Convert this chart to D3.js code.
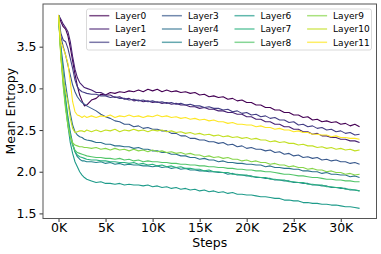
<!DOCTYPE html>
<html lang="en">
  <head>
    <meta charset="utf-8" />
    <title>Mean Entropy</title>
    <script src="https://d3js.org/d3.v7.min.js" charset="utf-8"></script>
    <style>
      body { margin: 0; background: #fff; }
      text { font-family: "DejaVu Sans", sans-serif; fill: #000; }
    </style>
  </head>
  <body>
    <div id="chart"></div>
    <script type="text/javascript">
      // steps in K
      const steps = [0, 0.25, 0.5, 0.75, 1, 1.25, 1.5, 1.75, 2, 2.25, 2.5, 2.75, 3,
        3.5, 4, 4.5, 5, 5.5, 6, 6.5, 7, 7.5, 8, 8.5, 9, 9.5, 10, 10.5, 11, 11.5, 12, 12.5,
        13, 13.5, 14, 14.5, 15, 15.5, 16, 16.5, 17, 17.5, 18, 18.5, 19, 19.5, 20, 20.5,
        21, 21.5, 22, 22.5, 23, 23.5, 24, 24.5, 25, 25.5, 26, 26.5, 27, 27.5, 28, 28.5,
        29, 29.5, 30, 30.5, 31, 31.5, 32];

      const layerNames = ["Layer0", "Layer1", "Layer2", "Layer3", "Layer4", "Layer5",
        "Layer6", "Layer7", "Layer8", "Layer9", "Layer10", "Layer11"];

      const layer0 = [3.88, 3.80, 3.74, 3.71, 3.63, 3.49, 3.33, 3.17, 3.03, 2.92, 2.85, 2.79, 2.80,
        2.86, 2.88, 2.93, 2.92, 2.95, 2.94, 2.96, 2.95, 2.97, 2.96, 2.98, 2.96, 2.99, 2.97, 2.99, 2.96,
        2.98, 2.96, 2.97, 2.95, 2.96, 2.94, 2.95, 2.92, 2.93, 2.90, 2.91, 2.89, 2.90, 2.87, 2.88, 2.85,
        2.86, 2.83, 2.83, 2.80, 2.80, 2.77, 2.77, 2.74, 2.74, 2.71, 2.71, 2.68, 2.68, 2.65, 2.66, 2.62,
        2.63, 2.60, 2.61, 2.59, 2.60, 2.57, 2.58, 2.55, 2.57, 2.54];
      const layer1 = [3.88, 3.83, 3.77, 3.73, 3.68, 3.56, 3.38, 3.23, 3.13, 3.07, 3.04, 3.01, 3.00,
        2.98, 2.95, 2.95, 2.92, 2.92, 2.89, 2.90, 2.87, 2.88, 2.85, 2.86, 2.84, 2.85, 2.83, 2.84, 2.82,
        2.83, 2.81, 2.82, 2.80, 2.80, 2.78, 2.78, 2.76, 2.77, 2.75, 2.75, 2.73, 2.73, 2.71, 2.71, 2.69,
        2.69, 2.66, 2.66, 2.63, 2.63, 2.60, 2.60, 2.57, 2.57, 2.54, 2.54, 2.51, 2.51, 2.48, 2.48, 2.45,
        2.46, 2.43, 2.43, 2.41, 2.41, 2.39, 2.39, 2.37, 2.37, 2.35];
      const layer2 = [3.88, 3.66, 3.58, 3.56, 3.48, 3.36, 3.24, 3.10, 3.02, 2.98, 2.96, 2.95, 2.94,
        2.93, 2.93, 2.91, 2.91, 2.89, 2.90, 2.88, 2.88, 2.86, 2.87, 2.85, 2.86, 2.84, 2.85, 2.83, 2.84,
        2.82, 2.83, 2.81, 2.82, 2.80, 2.81, 2.79, 2.79, 2.77, 2.78, 2.76, 2.76, 2.74, 2.75, 2.72, 2.73,
        2.70, 2.71, 2.68, 2.69, 2.66, 2.67, 2.64, 2.65, 2.62, 2.62, 2.59, 2.60, 2.56, 2.57, 2.54, 2.55,
        2.52, 2.53, 2.50, 2.51, 2.48, 2.49, 2.46, 2.47, 2.44, 2.45];
      const layer3 = [3.88, 3.62, 3.50, 3.40, 3.28, 3.16, 3.04, 2.96, 2.90, 2.86, 2.83, 2.81, 2.79,
        2.76, 2.73, 2.69, 2.66, 2.64, 2.61, 2.60, 2.57, 2.57, 2.54, 2.55, 2.52, 2.53, 2.51, 2.51, 2.49,
        2.49, 2.46, 2.46, 2.43, 2.43, 2.40, 2.40, 2.38, 2.38, 2.36, 2.36, 2.34, 2.35, 2.32, 2.33, 2.30,
        2.31, 2.28, 2.29, 2.27, 2.27, 2.25, 2.26, 2.23, 2.24, 2.21, 2.22, 2.19, 2.20, 2.17, 2.18, 2.16,
        2.17, 2.14, 2.15, 2.13, 2.14, 2.12, 2.12, 2.10, 2.11, 2.09];
      const layer4 = [3.88, 3.50, 3.28, 3.05, 2.86, 2.70, 2.56, 2.48, 2.44, 2.42, 2.41, 2.39, 2.38,
        2.37, 2.35, 2.35, 2.33, 2.33, 2.31, 2.31, 2.30, 2.30, 2.28, 2.29, 2.27, 2.27, 2.25, 2.25, 2.23,
        2.23, 2.21, 2.21, 2.19, 2.19, 2.17, 2.17, 2.15, 2.16, 2.14, 2.14, 2.12, 2.13, 2.11, 2.11, 2.10,
        2.10, 2.09, 2.09, 2.08, 2.08, 2.06, 2.07, 2.05, 2.05, 2.04, 2.04, 2.03, 2.03, 2.01, 2.01, 2.00,
        2.00, 1.98, 1.99, 1.97, 1.97, 1.96, 1.96, 1.94, 1.95, 1.93];
      const layer5 = [3.88, 3.45, 3.15, 2.88, 2.66, 2.48, 2.34, 2.24, 2.18, 2.15, 2.13, 2.13, 2.12,
        2.12, 2.11, 2.12, 2.10, 2.11, 2.09, 2.10, 2.08, 2.09, 2.08, 2.08, 2.07, 2.07, 2.06, 2.07, 2.05,
        2.06, 2.04, 2.05, 2.03, 2.04, 2.02, 2.02, 2.01, 2.01, 2.00, 2.00, 1.99, 1.99, 1.97, 1.98, 1.96,
        1.96, 1.95, 1.95, 1.93, 1.93, 1.92, 1.92, 1.90, 1.90, 1.89, 1.89, 1.87, 1.87, 1.86, 1.86, 1.84,
        1.84, 1.83, 1.83, 1.81, 1.81, 1.80, 1.80, 1.78, 1.78, 1.77];
      const layer6 = [3.88, 3.42, 3.10, 2.80, 2.55, 2.35, 2.22, 2.12, 2.06, 2.00, 1.96, 1.93, 1.91,
        1.89, 1.87, 1.88, 1.86, 1.86, 1.85, 1.86, 1.84, 1.85, 1.84, 1.84, 1.83, 1.84, 1.82, 1.83, 1.81,
        1.82, 1.80, 1.81, 1.79, 1.80, 1.78, 1.79, 1.77, 1.78, 1.76, 1.77, 1.75, 1.76, 1.74, 1.75, 1.73,
        1.73, 1.72, 1.72, 1.71, 1.70, 1.70, 1.69, 1.68, 1.68, 1.66, 1.66, 1.65, 1.65, 1.63, 1.63, 1.62,
        1.62, 1.61, 1.61, 1.60, 1.60, 1.59, 1.58, 1.58, 1.57, 1.56];
      const layer7 = [3.88, 3.44, 3.12, 2.85, 2.62, 2.44, 2.32, 2.24, 2.20, 2.18, 2.17, 2.16, 2.15,
        2.14, 2.14, 2.13, 2.13, 2.12, 2.12, 2.11, 2.11, 2.10, 2.11, 2.09, 2.10, 2.08, 2.09, 2.07, 2.08,
        2.06, 2.07, 2.05, 2.06, 2.04, 2.04, 2.03, 2.03, 2.01, 2.02, 2.00, 2.00, 1.99, 1.99, 1.97, 1.97,
        1.96, 1.96, 1.94, 1.94, 1.93, 1.93, 1.91, 1.91, 1.90, 1.90, 1.88, 1.88, 1.87, 1.87, 1.85, 1.85,
        1.84, 1.84, 1.82, 1.82, 1.81, 1.81, 1.79, 1.79, 1.78, 1.77];
      const layer8 = [3.88, 3.40, 3.05, 2.78, 2.58, 2.42, 2.32, 2.26, 2.23, 2.22, 2.21, 2.20, 2.19,
        2.18, 2.17, 2.17, 2.16, 2.16, 2.15, 2.16, 2.14, 2.15, 2.13, 2.14, 2.12, 2.13, 2.12, 2.12, 2.11,
        2.11, 2.10, 2.10, 2.09, 2.09, 2.08, 2.08, 2.07, 2.07, 2.06, 2.06, 2.05, 2.05, 2.04, 2.04, 2.03,
        2.03, 2.02, 2.02, 2.01, 2.01, 2.00, 2.00, 1.99, 1.98, 1.97, 1.97, 1.96, 1.95, 1.95, 1.94, 1.93,
        1.93, 1.92, 1.91, 1.91, 1.90, 1.90, 1.89, 1.89, 1.88, 1.88];
      const layer9 = [3.88, 3.38, 3.02, 2.75, 2.55, 2.42, 2.35, 2.32, 2.31, 2.30, 2.30, 2.29, 2.29,
        2.28, 2.29, 2.27, 2.28, 2.26, 2.28, 2.26, 2.27, 2.25, 2.27, 2.25, 2.26, 2.24, 2.26, 2.24, 2.25,
        2.23, 2.24, 2.22, 2.23, 2.21, 2.22, 2.20, 2.20, 2.18, 2.19, 2.17, 2.18, 2.16, 2.17, 2.15, 2.15,
        2.13, 2.14, 2.12, 2.13, 2.11, 2.11, 2.09, 2.10, 2.08, 2.08, 2.06, 2.07, 2.05, 2.05, 2.03, 2.04,
        2.02, 2.02, 2.00, 2.01, 1.99, 1.99, 1.97, 1.98, 1.96, 1.97];
      const layer10 = [3.88, 3.36, 3.12, 2.96, 2.84, 2.64, 2.52, 2.47, 2.48, 2.49, 2.49, 2.48, 2.50,
        2.48, 2.50, 2.48, 2.50, 2.49, 2.51, 2.48, 2.50, 2.49, 2.51, 2.49, 2.50, 2.48, 2.50, 2.49, 2.50,
        2.48, 2.49, 2.47, 2.48, 2.46, 2.47, 2.45, 2.46, 2.44, 2.45, 2.43, 2.44, 2.42, 2.43, 2.41, 2.42,
        2.40, 2.41, 2.39, 2.40, 2.38, 2.38, 2.36, 2.37, 2.35, 2.36, 2.34, 2.34, 2.32, 2.33, 2.31, 2.31,
        2.29, 2.30, 2.28, 2.29, 2.27, 2.28, 2.26, 2.27, 2.25, 2.26];
      const layer11 = [3.88, 3.56, 3.48, 3.40, 3.30, 3.08, 2.84, 2.72, 2.68, 2.67, 2.65, 2.67, 2.65,
        2.67, 2.65, 2.67, 2.66, 2.68, 2.65, 2.67, 2.66, 2.68, 2.66, 2.67, 2.65, 2.67, 2.66, 2.68, 2.66,
        2.67, 2.65, 2.66, 2.64, 2.65, 2.63, 2.64, 2.62, 2.63, 2.61, 2.62, 2.60, 2.60, 2.58, 2.59, 2.57,
        2.57, 2.56, 2.56, 2.54, 2.55, 2.53, 2.53, 2.51, 2.52, 2.50, 2.50, 2.48, 2.49, 2.47, 2.47, 2.45,
        2.45, 2.44, 2.44, 2.42, 2.43, 2.41, 2.41, 2.40, 2.40, 2.39];

      const layerValues = [layer0, layer1, layer2, layer3, layer4, layer5,
        layer6, layer7, layer8, layer9, layer10, layer11];

      const xTicks = [0, 5, 10, 15, 20, 25, 30];
      const yTicks = [1.5, 2.0, 2.5, 3.0, 3.5];

      const cW = 381, cH = 254;
      const cLeft = 43, cRight = 376.5, cTop = 4, cBottom = 218.5;

      const svg = d3
        .select("#chart")
        .append("svg")
        .attr("width", cW)
        .attr("height", cH);

      const xScale = d3.scaleLinear().domain([-1.65, 33.8]).range([cLeft, cRight]);
      const yScale = d3.scaleLinear().domain([1.439, 4.012]).range([cBottom, cTop]);
      const color = (i) => d3.interpolateViridis(i / 11);

      svg.append("defs").append("clipPath").attr("id", "clip")
        .append("rect")
        .attr("x", cLeft).attr("y", cTop)
        .attr("width", cRight - cLeft).attr("height", cBottom - cTop);

      // lines
      const line = d3.line()
        .x((d, i) => xScale(steps[i]))
        .y((d) => yScale(d));

      svg.append("g")
        .attr("clip-path", "url(#clip)")
        .selectAll("path")
        .data(layerValues)
        .enter()
        .append("path")
        .attr("d", line)
        .attr("fill", "none")
        .attr("stroke", (d, i) => color(i))
        .attr("stroke-width", 1.1)
        .attr("stroke-linejoin", "round");

      //axes
      const xAxis = d3.axisBottom(xScale)
        .tickValues(xTicks)
        .tickFormat((d) => d + "K")
        .tickSize(3.5)
        .tickSizeOuter(0)
        .tickPadding(1.5);
      const yAxis = d3.axisLeft(yScale)
        .tickValues(yTicks)
        .tickFormat(d3.format(".1f"))
        .tickSize(3.5)
        .tickSizeOuter(0)
        .tickPadding(3);

      const gx = svg.append("g")
        .attr("transform", `translate(0,${cBottom})`)
        .call(xAxis);
      const gy = svg.append("g")
        .attr("transform", `translate(${cLeft},0)`)
        .call(yAxis);
      [gx, gy].forEach((g) => {
        g.select(".domain").remove();
        g.selectAll("line").attr("stroke", "#000").attr("stroke-width", 0.8);
        g.selectAll("text").style("font-size", "12.5px").attr("fill", "#000");
      });

      // frame
      svg.append("rect")
        .attr("x", cLeft).attr("y", cTop)
        .attr("width", cRight - cLeft).attr("height", cBottom - cTop)
        .attr("fill", "none")
        .attr("stroke", "#555")
        .attr("stroke-width", 1);

      svg.append("text")
        .attr("x", (cLeft + cRight) / 2)
        .attr("y", 247)
        .attr("text-anchor", "middle")
        .style("font-size", "12.5px")
        .text("Steps");

      svg.append("text")
        .attr("transform", "rotate(-90)")
        .attr("x", -(cTop + cBottom) / 2)
        .attr("y", 14.5)
        .attr("text-anchor", "middle")
        .style("font-size", "12.5px")
        .text("Mean Entropy");

      // legend
      const legend = svg.append("g");
      legend.append("rect")
        .attr("x", 86.5).attr("y", 9)
        .attr("width", 285).attr("height", 41)
        .attr("rx", 2)
        .attr("fill", "#fff")
        .attr("fill-opacity", 0.8)
        .attr("stroke", "#d0d0d0")
        .attr("stroke-width", 0.8);

      const item = legend.selectAll("g.item")
        .data(layerNames)
        .enter()
        .append("g")
        .attr("class", "item")
        .attr("transform", (d, i) =>
          `translate(${89.3 + Math.floor(i / 3) * 72.6},${15.7 + (i % 3) * 13.3})`);
      item.append("line")
        .attr("x1", 0).attr("x2", 20)
        .attr("stroke", (d, i) => color(i))
        .attr("stroke-opacity", 0.7)
        .attr("stroke-width", 1.5);
      item.append("text")
        .attr("x", 26)
        .attr("y", 3.3)
        .style("font-size", "9px")
        .text((d) => d);
    </script>
  </body>
</html>
